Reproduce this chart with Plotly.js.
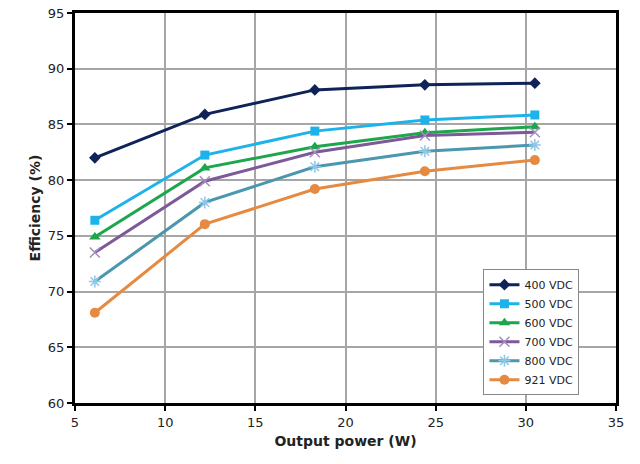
<!DOCTYPE html>
<html><head><meta charset="utf-8">
<script src="https://cdn.plot.ly/plotly-3.0.1.min.js"></script>
<style>html,body{margin:0;padding:0;background:#fff}#c{width:640px;height:464px}</style>
</head><body><div id="c"></div>
<script>
const power = [6.1, 12.2, 18.3, 24.4, 30.5];
const names = ["400 VDC", "500 VDC", "600 VDC", "700 VDC", "800 VDC", "921 VDC"];
const eff400 = [82.0, 85.9, 88.1, 88.55, 88.7];
const eff500 = [76.4, 82.25, 84.4, 85.4, 85.85];
const eff600 = [74.9, 81.1, 83.0, 84.25, 84.8];
const eff700 = [73.5, 79.9, 82.5, 84.0, 84.3];
const eff800 = [70.9, 78.0, 81.2, 82.6, 83.15];
const eff921 = [68.1, 76.05, 79.2, 80.8, 81.8];

const series = [eff400, eff500, eff600, eff700, eff800, eff921];
const colors = ["#0f2358", "#1db3ea", "#1ea64c", "#7c5a98", "#4a97ae", "#e58a40"];
const markerColors = ["#0f2358", "#1db3ea", "#1ea64c", "#a58ec0", "#8fc6e6", "#e58a40"];
const symbols = ["diamond", "square", "triangle-up", "x-thin-open", "asterisk-open", "circle"];
const sizes = [9, 9, 10, 10, 10, 10];

const traces = series.map((y, i) => ({
  x: power, y: y, name: names[i], type: "scatter", mode: "lines+markers",
  line: {color: colors[i], width: 3},
  marker: {symbol: symbols[i], size: sizes[i], color: markerColors[i],
           line: {color: markerColors[i], width: (i===3||i===4)?1.5:0}}
}));

const layout = {
  width: 640, height: 464,
  margin: {l: 75, r: 24, t: 13, b: 61},
  paper_bgcolor: "#fff", plot_bgcolor: "#fff",
  font: {family: "DejaVu Sans, Verdana, sans-serif", size: 13, color: "#222"},
  xaxis: {range: [5, 35], dtick: 5, tick0: 5, showgrid: true, gridcolor: "#a6a6a6", gridwidth: 2,
          showline: true, linecolor: "#000", linewidth: 3, mirror: true,
          ticks: "outside", ticklen: 5, tickwidth: 2, tickcolor: "#000", zeroline: false,
          title: {text: "<b>Output power (W)</b>", font: {size: 14, color: "#222"}, standoff: 8}},
  yaxis: {range: [60, 95], dtick: 5, tick0: 60, showgrid: true, gridcolor: "#a6a6a6", gridwidth: 2,
          showline: true, linecolor: "#000", linewidth: 3, mirror: true,
          ticks: "outside", ticklen: 5, tickwidth: 2, tickcolor: "#000", zeroline: false,
          title: {text: "<b>Efficiency (%)</b>", font: {size: 14, color: "#222"}, standoff: 4}},
  legend: {x: 0.755, y: 0.02, xanchor: "left", yanchor: "bottom",
           bgcolor: "#fff", bordercolor: "#888", borderwidth: 1,
           font: {size: 11, color: "#222"}, tracegroupgap: 0, itemwidth: 30},
  showlegend: true
};
Plotly.newPlot("c", traces, layout, {displayModeBar: false, staticPlot: true});
</script></body></html>
